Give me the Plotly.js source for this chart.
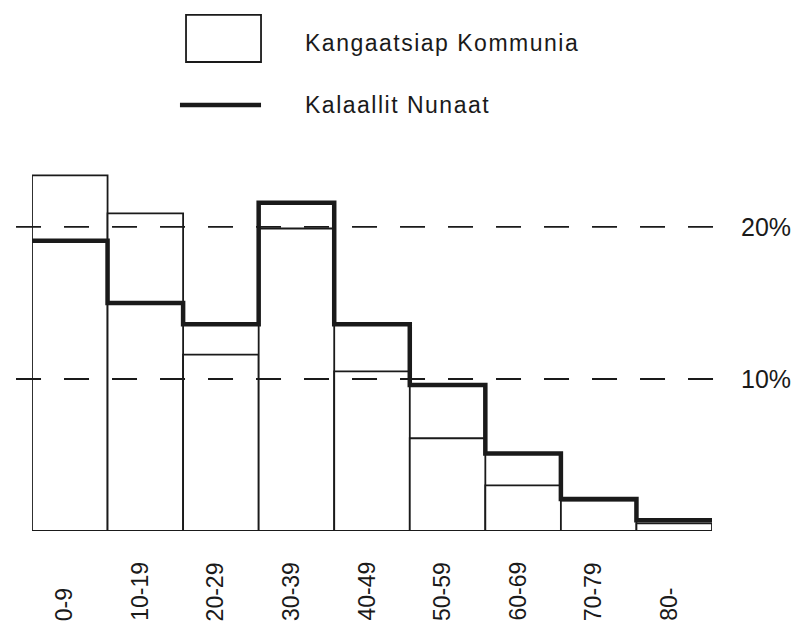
<!DOCTYPE html>
<html>
<head>
<meta charset="utf-8">
<script src="https://cdn.plot.ly/plotly-3.0.1.min.js"></script>
<style>
html,body{margin:0;padding:0;background:#fff;}
#chart{width:793px;height:631px;}
</style>
</head>
<body>
<div id="chart"></div>
<script>
// Age groups
var categories = ["0-9","10-19","20-29","30-39","40-49","50-59","60-69","70-79","80-"];
// Kangaatsiap Kommunia (%), drawn as bars
var kommuniaValues = [23.4, 20.9, 11.6, 19.9, 10.5, 6.1, 3.0, 2.0, 0.5];
// Kalaallit Nunaat (%), drawn as step line
var nunaatValues = [19.1, 15.0, 13.6, 21.6, 13.6, 9.6, 5.1, 2.1, 0.7];
// Reference levels
var refLevels = [10, 20];
var refLabels = ["10%", "20%"];
var seriesNames = ["Kangaatsiap Kommunia", "Kalaallit Nunaat"];

var ink = "#1a1a1a";
var idx = categories.map(function(_, i){ return i; });

// step line: edges of each bar
var stepX = categories.map(function(_, i){ return i - 0.5; });
stepX.push(categories.length - 0.5);
var stepY = nunaatValues.slice();
stepY.push(nunaatValues[nunaatValues.length - 1]);

var traces = [
  {
    type: "bar",
    x: idx,
    y: kommuniaValues,
    width: 1,
    marker: {color: "#ffffff", line: {color: ink, width: 1.8}},
    cliponaxis: false,
    name: seriesNames[0],
    showlegend: false,
    hoverinfo: "skip"
  },
  {
    type: "scatter",
    mode: "lines",
    x: stepX,
    y: stepY,
    line: {shape: "hv", color: ink, width: 4.5},
    cliponaxis: false,
    name: seriesNames[1],
    showlegend: false,
    hoverinfo: "skip"
  }
];

var font = "Liberation Sans, Arial, Helvetica, sans-serif";
var shapes = [];
var annotations = [];

refLevels.forEach(function(v, k){
  shapes.push({
    type: "line", xref: "paper", yref: "y",
    x0: -0.0235, x1: 1.0015, y0: v, y1: v,
    line: {color: ink, width: 1.8, dash: "25px,23px"},
    layer: "above"
  });
  annotations.push({
    xref: "paper", yref: "y", x: 1.0397, y: v,
    xanchor: "left", yanchor: "middle",
    text: refLabels[k], showarrow: false,
    font: {family: font, size: 25, color: ink}
  });
});

// category labels, rotated, bottom aligned
categories.forEach(function(c, i){
  annotations.push({
    xref: "x", yref: "paper", x: i, y: 0,
    xshift: -6, yshift: -92,
    xanchor: "center", yanchor: "bottom",
    textangle: -90,
    text: c, showarrow: false,
    font: {family: font, size: 23, color: ink}
  });
});

// legend
shapes.push({
  type: "rect", xref: "paper", yref: "paper",
  x0: 0.2265, x1: 0.3368, y0: 0.8832, y1: 0.9718,
  line: {color: ink, width: 1.8}, fillcolor: "#ffffff"
});
shapes.push({
  type: "line", xref: "paper", yref: "paper",
  x0: 0.2176, x1: 0.3368, y0: 0.8023, y1: 0.8023,
  line: {color: ink, width: 4.5}
});
annotations.push({
  xref: "paper", yref: "paper", x: 0.3985, y: 0.919,
  xanchor: "left", yanchor: "middle",
  text: '<span style="letter-spacing:1.5px">' + seriesNames[0] + '</span>', showarrow: false,
  font: {family: font, size: 23, color: ink}
});
annotations.push({
  xref: "paper", yref: "paper", x: 0.3985, y: 0.8023,
  xanchor: "left", yanchor: "middle",
  text: '<span style="letter-spacing:1.5px">' + seriesNames[1] + '</span>', showarrow: false,
  font: {family: font, size: 23, color: ink}
});

var layout = {
  width: 793, height: 631,
  margin: {l: 32, r: 81, t: 0, b: 100, pad: 0},
  paper_bgcolor: "#ffffff",
  plot_bgcolor: "rgba(0,0,0,0)",
  showlegend: false,
  xaxis: {range: [-0.5, 8.5], visible: false, fixedrange: true},
  yaxis: {range: [0, 34.93], visible: false, fixedrange: true},
  shapes: shapes,
  annotations: annotations,
  font: {family: font, color: ink}
};

Plotly.newPlot("chart", traces, layout, {staticPlot: true, displayModeBar: false});
</script>
</body>
</html>
